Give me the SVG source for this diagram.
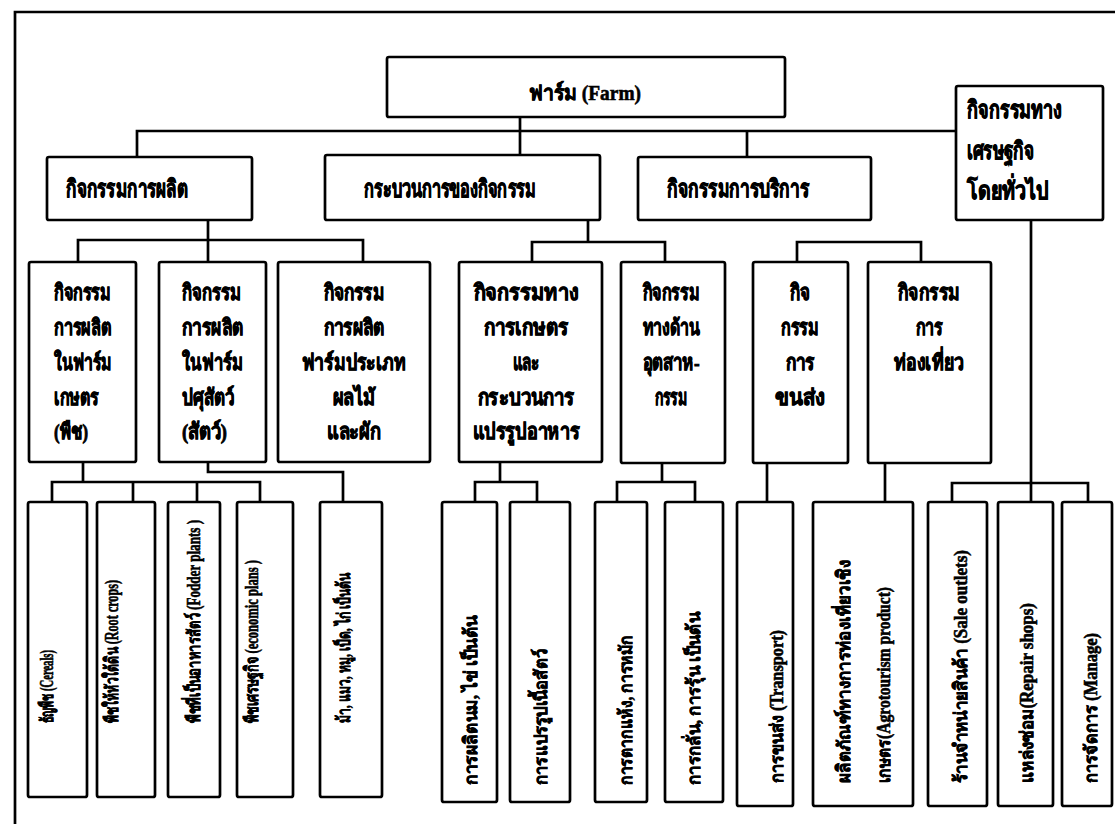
<svg xmlns="http://www.w3.org/2000/svg" width="1115" height="824" viewBox="0 0 1115 824">
<style>
  .box{fill:#fff;stroke:#000;stroke-width:2.7}
  .ln{fill:none;stroke:#000;stroke-width:2.7}
  text{font-family:'Liberation Serif','DejaVu Serif',serif;font-weight:bold;fill:#000;stroke:#000;stroke-width:0.9}
  .t1{font-size:21px;stroke-width:0.6}
  .t2{font-size:24px}
  .t3{font-size:22px}
  .t4{font-size:18px;stroke-width:0.6}
  .m{text-anchor:middle}
</style>
<rect x="0" y="0" width="1115" height="824" fill="#fff"/>
<path class="ln" d="M15,824 V12 H1115"/>
<g id="connectors">
  <path class="ln" d="M520,117 V155"/>
  <path class="ln" d="M137,157 V131 H956"/>
  <path class="ln" d="M747,131 V157"/>
  <path class="ln" d="M208,220 V262"/>
  <path class="ln" d="M78,262 V240 H363 V262"/>
  <path class="ln" d="M588,220 V242"/>
  <path class="ln" d="M532,262 V242 H665 V262"/>
  <path class="ln" d="M797,262 V242 H921 V262"/>
  <path class="ln" d="M1031,220 V502"/>
  <path class="ln" d="M952,502 V483 H1088 V502"/>
  <path class="ln" d="M83,462 V482"/>
  <path class="ln" d="M52,502 V482 H260 V502"/>
  <path class="ln" d="M133,482 V502"/>
  <path class="ln" d="M197,482 V502"/>
  <path class="ln" d="M208,462 V472 H343 V502"/>
  <path class="ln" d="M500,462 V482"/>
  <path class="ln" d="M475,502 V482 H537 V502"/>
  <path class="ln" d="M662,463 V482"/>
  <path class="ln" d="M617,502 V482 H695 V502"/>
  <path class="ln" d="M767,463 V502"/>
  <path class="ln" d="M885,463 V502"/>
</g>
<g id="n-farm">
  <rect class="box" x="387" y="57" width="398" height="60" rx="2"/>
  <text class="t1 m" x="585" y="100" textLength="112" lengthAdjust="spacingAndGlyphs">ฟาร์ม (Farm)</text>
</g>
<g id="n-production">
  <rect class="box" x="47" y="157" width="205" height="63" rx="2"/>
  <text class="t2" x="66" y="197" textLength="122" lengthAdjust="spacingAndGlyphs">กิจกรรมการผลิต</text>
</g>
<g id="n-process">
  <rect class="box" x="325" y="155" width="275" height="65" rx="2"/>
  <text class="t2" x="364" y="197" textLength="172" lengthAdjust="spacingAndGlyphs">กระบวนการของกิจกรรม</text>
</g>
<g id="n-service">
  <rect class="box" x="638" y="157" width="233" height="63" rx="2"/>
  <text class="t2 m" x="738" y="197" textLength="142" lengthAdjust="spacingAndGlyphs">กิจกรรมการบริการ</text>
</g>
<g id="n-economic">
  <rect class="box" x="956" y="86" width="147" height="134" rx="2"/>
  <text class="t2" x="967" y="118" textLength="95" lengthAdjust="spacingAndGlyphs">กิจกรรมทาง</text>
  <text class="t2" x="967" y="159" textLength="67" lengthAdjust="spacingAndGlyphs">เศรษฐกิจ</text>
  <text class="t2" x="967" y="199" textLength="81" lengthAdjust="spacingAndGlyphs">โดยทั่วไป</text>
</g>
<g id="n-plant">
  <rect class="box" x="29" y="262" width="107" height="200" rx="2"/>
  <text class="t3" x="54" y="300" textLength="57" lengthAdjust="spacingAndGlyphs">กิจกรรม</text>
  <text class="t3" x="54" y="335" textLength="57" lengthAdjust="spacingAndGlyphs">การผลิต</text>
  <text class="t3" x="54" y="370" textLength="58" lengthAdjust="spacingAndGlyphs">ในฟาร์ม</text>
  <text class="t3" x="54" y="405" textLength="45" lengthAdjust="spacingAndGlyphs">เกษตร</text>
  <text class="t3" x="54" y="439" textLength="34" lengthAdjust="spacingAndGlyphs">(พืช)</text>
</g>
<g id="n-animal">
  <rect class="box" x="159" y="262" width="107" height="200" rx="2"/>
  <text class="t3" x="182" y="300" textLength="59" lengthAdjust="spacingAndGlyphs">กิจกรรม</text>
  <text class="t3" x="182" y="335" textLength="61" lengthAdjust="spacingAndGlyphs">การผลิต</text>
  <text class="t3" x="182" y="370" textLength="61" lengthAdjust="spacingAndGlyphs">ในฟาร์ม</text>
  <text class="t3" x="182" y="405" textLength="52" lengthAdjust="spacingAndGlyphs">ปศุสัตว์</text>
  <text class="t3" x="182" y="439" textLength="45" lengthAdjust="spacingAndGlyphs">(สัตว์)</text>
</g>
<g id="n-fruit">
  <rect class="box" x="278" y="262" width="152" height="200" rx="2"/>
  <text class="t3 m" x="354" y="300" textLength="61" lengthAdjust="spacingAndGlyphs">กิจกรรม</text>
  <text class="t3 m" x="354" y="335" textLength="61" lengthAdjust="spacingAndGlyphs">การผลิต</text>
  <text class="t3 m" x="354" y="370" textLength="105" lengthAdjust="spacingAndGlyphs">ฟาร์มประเภท</text>
  <text class="t3 m" x="354" y="405" textLength="43" lengthAdjust="spacingAndGlyphs">ผลไม้</text>
  <text class="t3 m" x="354" y="439" textLength="54" lengthAdjust="spacingAndGlyphs">และผัก</text>
</g>
<g id="n-agri-food">
  <rect class="box" x="459" y="262" width="143" height="200" rx="2"/>
  <text class="t3 m" x="526" y="300" textLength="105" lengthAdjust="spacingAndGlyphs">กิจกรรมทาง</text>
  <text class="t3 m" x="526" y="335" textLength="85" lengthAdjust="spacingAndGlyphs">การเกษตร</text>
  <text class="t3 m" x="526" y="370" textLength="27" lengthAdjust="spacingAndGlyphs">และ</text>
  <text class="t3 m" x="526" y="405" textLength="97" lengthAdjust="spacingAndGlyphs">กระบวนการ</text>
  <text class="t3 m" x="526" y="439" textLength="107" lengthAdjust="spacingAndGlyphs">แปรรูปอาหาร</text>
</g>
<g id="n-industry">
  <rect class="box" x="621" y="262" width="104" height="201" rx="2"/>
  <text class="t3 m" x="671" y="300" textLength="57" lengthAdjust="spacingAndGlyphs">กิจกรรม</text>
  <text class="t3 m" x="671" y="335" textLength="57" lengthAdjust="spacingAndGlyphs">ทางด้าน</text>
  <text class="t3 m" x="671" y="370" textLength="57" lengthAdjust="spacingAndGlyphs">อุตสาห-</text>
  <text class="t3 m" x="671" y="405" textLength="33" lengthAdjust="spacingAndGlyphs">กรรม</text>
</g>
<g id="n-transport">
  <rect class="box" x="753" y="262" width="95" height="201" rx="2"/>
  <text class="t3 m" x="800" y="300" textLength="20" lengthAdjust="spacingAndGlyphs">กิจ</text>
  <text class="t3 m" x="800" y="335" textLength="38" lengthAdjust="spacingAndGlyphs">กรรม</text>
  <text class="t3 m" x="800" y="370" textLength="29" lengthAdjust="spacingAndGlyphs">การ</text>
  <text class="t3 m" x="800" y="405" textLength="50" lengthAdjust="spacingAndGlyphs">ขนส่ง</text>
</g>
<g id="n-tourism">
  <rect class="box" x="868" y="262" width="123" height="201" rx="2"/>
  <text class="t3 m" x="929" y="300" textLength="62" lengthAdjust="spacingAndGlyphs">กิจกรรม</text>
  <text class="t3 m" x="929" y="335" textLength="27" lengthAdjust="spacingAndGlyphs">การ</text>
  <text class="t3 m" x="929" y="370" textLength="70" lengthAdjust="spacingAndGlyphs">ท่องเที่ยว</text>
</g>
<g id="n-cereals">
  <rect class="box" x="28" y="502" width="59" height="295" rx="2"/>
  <text class="t4" transform="translate(53,723) rotate(-90)" textLength="73" lengthAdjust="spacingAndGlyphs">ธัญพืช (Cereals)</text>
</g>
<g id="n-root">
  <rect class="box" x="97" y="502" width="58" height="295" rx="2"/>
  <text class="t4" transform="translate(118,723) rotate(-90)" textLength="143" lengthAdjust="spacingAndGlyphs">พืชให้หัวใต้ดิน (Root crops)</text>
</g>
<g id="n-fodder">
  <rect class="box" x="168" y="502" width="52" height="295" rx="2"/>
  <text class="t4" transform="translate(200,723) rotate(-90)" textLength="203" lengthAdjust="spacingAndGlyphs">พืชที่เป็นอาหารสัตว์ (Fodder plants )</text>
</g>
<g id="n-economic-plants">
  <rect class="box" x="237" y="502" width="56" height="295" rx="2"/>
  <text class="t4" transform="translate(258,723) rotate(-90)" textLength="163" lengthAdjust="spacingAndGlyphs">พืชเศรษฐกิจ (economic plans )</text>
</g>
<g id="n-livestock">
  <rect class="box" x="320" y="502" width="62" height="295" rx="2"/>
  <text class="t4" transform="translate(350,723) rotate(-90)" textLength="150" lengthAdjust="spacingAndGlyphs">ม้า, แมว, หมู, เป็ด, ไก่ เป็นต้น</text>
</g>
<g id="n-milk">
  <rect class="box" x="442" y="502" width="55" height="300" rx="2"/>
  <text class="t4" transform="translate(477,785) rotate(-90)" textLength="170" lengthAdjust="spacingAndGlyphs">การผลิตนม, ไข่ เป็นต้น</text>
</g>
<g id="n-meat">
  <rect class="box" x="510" y="502" width="60" height="300" rx="2"/>
  <text class="t4" transform="translate(547,785) rotate(-90)" textLength="136" lengthAdjust="spacingAndGlyphs">การแปรรูปเนื้อสัตว์</text>
</g>
<g id="n-drying">
  <rect class="box" x="595" y="502" width="52" height="300" rx="2"/>
  <text class="t4" transform="translate(632,785) rotate(-90)" textLength="150" lengthAdjust="spacingAndGlyphs">การตากแห้ง, การหมัก</text>
</g>
<g id="n-distill">
  <rect class="box" x="665" y="502" width="58" height="300" rx="2"/>
  <text class="t4" transform="translate(700,785) rotate(-90)" textLength="173" lengthAdjust="spacingAndGlyphs">การกลั่น, การรุ้น เป็นต้น</text>
</g>
<g id="n-transport-leaf">
  <rect class="box" x="737" y="502" width="56" height="304" rx="2"/>
  <text class="t4" transform="translate(783,783) rotate(-90)" textLength="153" lengthAdjust="spacingAndGlyphs">การขนส่ง (Transport)</text>
</g>
<g id="n-agrotourism">
  <rect class="box" x="813" y="502" width="100" height="304" rx="2"/>
  <text class="t4" transform="translate(850,783) rotate(-90)" textLength="223" lengthAdjust="spacingAndGlyphs">ผลิตภัณฑ์ทางการท่องเที่ยวเชิง</text>
  <text class="t4" transform="translate(890,783) rotate(-90)" textLength="196" lengthAdjust="spacingAndGlyphs">เกษตร(Agrotourism product)</text>
</g>
<g id="n-sale">
  <rect class="box" x="928" y="502" width="59" height="304" rx="2"/>
  <text class="t4" transform="translate(967,783) rotate(-90)" textLength="233" lengthAdjust="spacingAndGlyphs">ร้านจำหน่ายสินค้า (Sale outlets)</text>
</g>
<g id="n-repair">
  <rect class="box" x="998" y="502" width="55" height="304" rx="2"/>
  <text class="t4" transform="translate(1033,783) rotate(-90)" textLength="180" lengthAdjust="spacingAndGlyphs">แหล่งซ่อม(Repair shops)</text>
</g>
<g id="n-manage">
  <rect class="box" x="1062" y="502" width="50" height="304" rx="2"/>
  <text class="t4" transform="translate(1097,783) rotate(-90)" textLength="150" lengthAdjust="spacingAndGlyphs">การจัดการ (Manage)</text>
</g>
</svg>
